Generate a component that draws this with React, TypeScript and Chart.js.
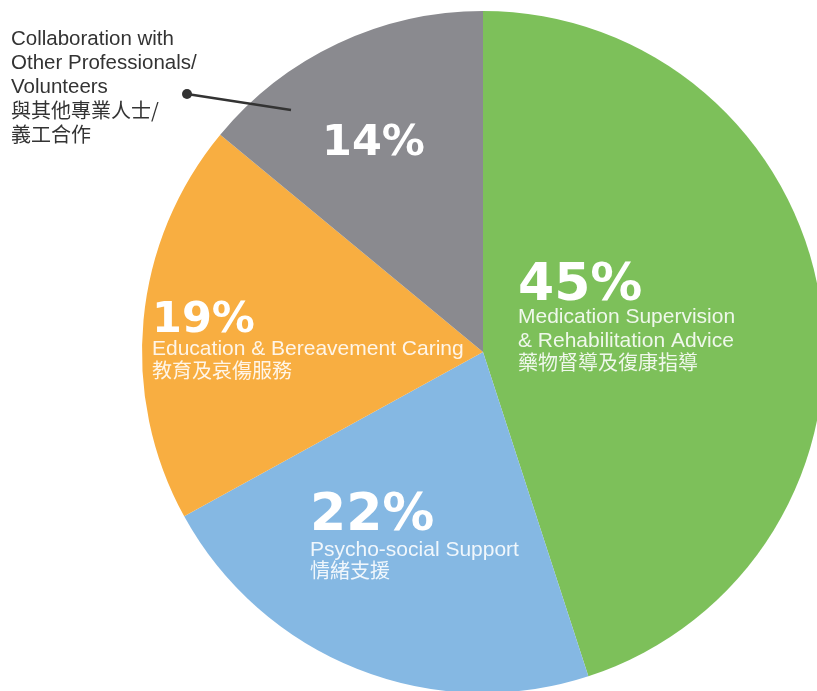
import React, { useEffect, useRef } from "react";
import { Chart, registerables } from "chart.js";

Chart.register(...registerables);

// ---- data ----
const categories = [
  "Medication Supervision & Rehabilitation Advice",
  "Psycho-social Support",
  "Education & Bereavement Caring",
  "Collaboration with Other Professionals/Volunteers",
];
const values = [45, 22, 19, 14];
const colors = ["#7DC05A", "#85B8E3", "#F8AE41", "#8A8A8F"];
const labelsEn = [
  ["Medication Supervision", "& Rehabilitation Advice"],
  ["Psycho-social Support"],
  ["Education & Bereavement Caring"],
  ["Collaboration with", "Other Professionals/", "Volunteers"],
];
const labelsZh = [
  ["藥物督導及復康指導"],
  ["情緒支援"],
  ["教育及哀傷服務"],
  ["與其他專業人士/", "義工合作"],
];

const LATIN = '"Liberation Sans", Arial, "Noto Sans CJK TC", sans-serif';
const CJK = '"Noto Sans CJK TC", "Noto Sans CJK SC", sans-serif';
const NUM = '"DejaVu Sans", "Liberation Sans", sans-serif';

// label layout (canvas coordinates)
const layout = [
  { x: 518, y: 300, size: 52, textY: [323, 347], zhY: [370] },
  { x: 310, y: 530, size: 52, textY: [556], zhY: [578] },
  { x: 152, y: 332, size: 43, textY: [355], zhY: [378] },
  { x: 322, y: 155, size: 43 },
];

const labelPlugin = {
  id: "sliceLabels",
  afterDraw(chart: any) {
    const ctx: CanvasRenderingContext2D = chart.ctx;
    ctx.save();
    ctx.textAlign = "left";
    ctx.textBaseline = "alphabetic";
    values.forEach((v, i) => {
      const l: any = layout[i];
      ctx.fillStyle = "#ffffff";
      ctx.font = `bold ${l.size}px ${NUM}`;
      ctx.fillText(`${v}%`, l.x, l.y);
      if (l.textY) {
        ctx.fillStyle = "rgba(255,255,255,0.88)";
        ctx.font = `21px ${LATIN}`;
        labelsEn[i].forEach((t, k) => ctx.fillText(t, l.x, l.textY[k]));
        ctx.font = `20px ${CJK}`;
        labelsZh[i].forEach((t, k) => ctx.fillText(t, l.x, l.zhY[k]));
      }
    });
    // outside label for the last slice
    const last = values.length - 1;
    ctx.fillStyle = "#333333";
    ctx.font = `20.5px ${LATIN}`;
    const enY = [45, 69, 93];
    labelsEn[last].forEach((t, k) => ctx.fillText(t, 11, enY[k]));
    ctx.font = `20px ${CJK}`;
    const zhY = [118, 142];
    labelsZh[last].forEach((t, k) => ctx.fillText(t, 11, zhY[k]));
    // leader line
    ctx.strokeStyle = "#333333";
    ctx.lineWidth = 2.6;
    ctx.beginPath();
    ctx.moveTo(187, 94);
    ctx.lineTo(291, 110);
    ctx.stroke();
    ctx.beginPath();
    ctx.arc(187, 94, 5, 0, Math.PI * 2);
    ctx.fillStyle = "#333333";
    ctx.fill();
    ctx.restore();
  },
};

export default function App() {
  const ref = useRef<HTMLCanvasElement | null>(null);
  useEffect(() => {
    if (!ref.current) return;
    const chart = new Chart(ref.current, {
      type: "pie",
      data: {
        labels: categories,
        datasets: [
          {
            data: values,
            backgroundColor: colors,
            borderWidth: 0,
          },
        ],
      },
      options: {
        responsive: false,
        animation: false,
        layout: { padding: { left: 142, top: 11, right: 6, bottom: 7 } },
        plugins: {
          legend: { display: false },
          tooltip: { enabled: false },
        },
      },
      plugins: [labelPlugin],
    });
    return () => chart.destroy();
  }, []);
  return (
    <div
      style={{
        position: "fixed",
        left: 0,
        top: 0,
        width: 817,
        height: 691,
        overflow: "hidden",
        background: "#ffffff",
      }}
    >
      <canvas ref={ref} width={830} height={700} style={{ display: "block" }} />
    </div>
  );
}
